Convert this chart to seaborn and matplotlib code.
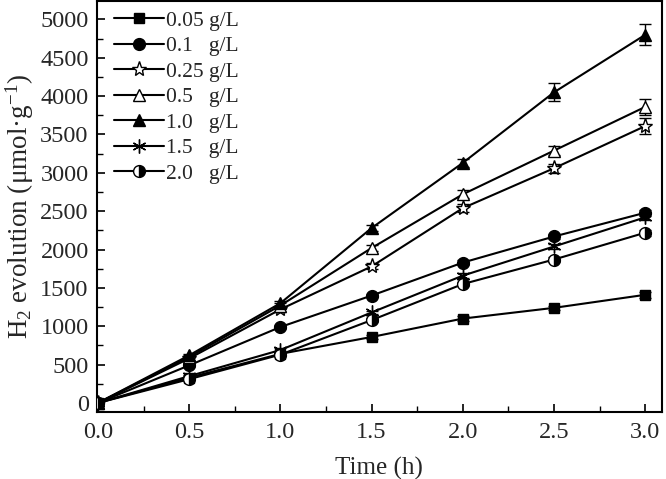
import matplotlib
matplotlib.use("Agg")
import matplotlib.pyplot as plt
import numpy as np
import pandas as pd
import seaborn as sns
from matplotlib.ticker import MultipleLocator, FormatStrFormatter

# Datos (evolución de H2 vs tiempo)
time_h = [0.0, 0.5, 1.0, 1.5, 2.0, 2.5, 3.0]
labels = ["0.05 g/L", "0.1   g/L", "0.25 g/L", "0.5   g/L", "1.0   g/L", "1.5   g/L", "2.0   g/L"]
h2_005 = [0, 330, 640, 860, 1100, 1240, 1410]
h2_01 = [0, 490, 990, 1400, 1830, 2170, 2480]
h2_025 = [0, 580, 1220, 1780, 2540, 3060, 3610]
h2_05 = [0, 600, 1270, 2020, 2720, 3290, 3860]
h2_10 = [0, 620, 1300, 2280, 3130, 4050, 4800]
h2_15 = [0, 350, 690, 1180, 1660, 2040, 2420]
h2_20 = [0, 310, 630, 1080, 1550, 1870, 2220]
err_025 = [0, 20, 30, 40, 50, 60, 100]
err_05 = [0, 20, 30, 40, 50, 60, 100]
err_10 = [0, 20, 30, 40, 50, 120, 140]
err_small = [0, 15, 20, 25, 30, 30, 40]

series = [h2_005, h2_01, h2_025, h2_05, h2_10, h2_15, h2_20]
errors = [err_small, err_small, err_025, err_05, err_10, err_small, err_small]
markers = [
    dict(marker="s", markerfacecolor="black", markersize=7.5),
    dict(marker="o", markerfacecolor="black", markersize=8.5),
    dict(marker="*", markerfacecolor="white", markersize=11),
    dict(marker="^", markerfacecolor="white", markersize=9),
    dict(marker="^", markerfacecolor="black", markersize=9),
    dict(marker=(6, 2, 0), markerfacecolor="black", markersize=10),
    dict(marker="o", markerfacecolor="black", fillstyle="right",
         markerfacecoloralt="white", markersize=8.5),
]

sns.set_theme(style="ticks")
plt.rcParams["font.family"] = ["Liberation Serif", "DejaVu Serif"]
plt.rcParams["mathtext.fontset"] = "custom"
plt.rcParams["mathtext.rm"] = "Liberation Serif"
plt.rcParams["mathtext.it"] = "Liberation Serif:italic"

fig = plt.figure(figsize=(6.66, 4.79), dpi=100)
ax = fig.add_axes([0.1456, 0.140, 0.848, 0.857])

for lab, ys, es, mk in zip(labels, series, errors, markers):
    df = pd.DataFrame({"t": time_h, "h2": ys})
    ax.errorbar(time_h, ys, yerr=es, fmt="none", ecolor="black",
                elinewidth=1, capsize=4, zorder=2)
    sns.lineplot(data=df, x="t", y="h2", ax=ax, color="black", lw=1.5,
                 markeredgecolor="black", markeredgewidth=1, label=lab,
                 zorder=3, **mk)

ax.set_xlim(-0.005, 3.09)
ax.set_ylim(-117, 5234)
ax.xaxis.set_major_locator(MultipleLocator(0.5))
ax.xaxis.set_minor_locator(MultipleLocator(0.25))
ax.yaxis.set_major_locator(MultipleLocator(500))
ax.yaxis.set_minor_locator(MultipleLocator(250))
ax.xaxis.set_major_formatter(FormatStrFormatter("%.1f"))
ax.tick_params(which="both", direction="in", color="black")
ax.tick_params(which="major", length=6, width=1.2, labelsize=17.5)
ax.tick_params(which="minor", length=4, width=1.0)
ax.tick_params(axis="x", pad=7)
ax.tick_params(axis="y", pad=6)
for sp in ax.spines.values():
    sp.set_linewidth(1.5)
    sp.set_color("black")

ax.set_xlabel("Time (h)", fontsize=18, labelpad=10)
ax.set_ylabel("H$_2$ evolution (μmol·g$^{-1}$)", fontsize=19.5, labelpad=3)

ax.legend(loc="upper left", bbox_to_anchor=(0.015, 0.998), borderaxespad=0,
          frameon=False, fontsize=15.5, handlelength=2.3,
          labelspacing=0.25, handletextpad=0.1)

fig.savefig("out.png", dpi=100)
